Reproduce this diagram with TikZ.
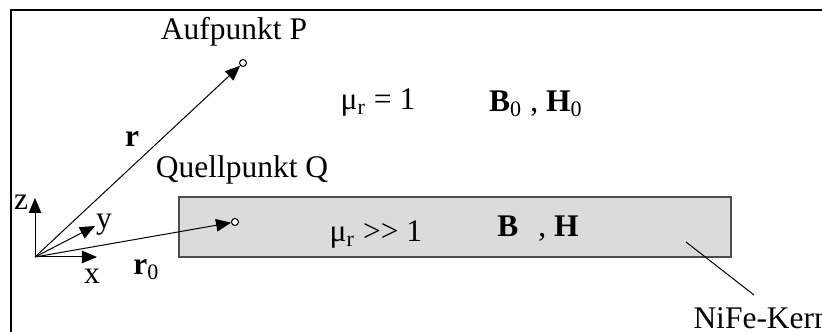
\documentclass[tikz,border=0pt]{standalone}
\usepackage{fontspec}
\setmainfont{Liberation Serif}
\usetikzlibrary{
    arrows.meta
}

\tikzset{
    vec/.style={-{Triangle[length=6pt,width=5pt]}, line width=0.4pt},
    pnt/.style={circle, draw, fill=white, inner sep=0pt, minimum size=2.8pt, line width=0.4pt},
    lbl/.style={anchor=base, inner sep=0pt, font=\fontsize{12.6}{14}\selectfont},
}

\begin{document}
\begin{tikzpicture}[x=0.4pt,y=-0.4pt]

\useasboundingbox (0,0) rectangle (822,332);

% Rahmen
\draw[line width=0.9pt] (11,10) rectangle (900,420);

% NiFe-Kern
\filldraw[fill=black!14, draw=black!70, line width=0.6pt] (179,197) rectangle (731,257);

% Ursprung und Punkte
\coordinate (O) at (35,257);
\node[pnt] (P) at (243,63) {};
\node[pnt] (Q) at (235,222) {};

% Koordinatenachsen
\coordinate (xtip) at (97,257);
\coordinate (ytip) at (95,226);
\coordinate (ztip) at (35,198);
\draw[vec] (O) -- (xtip);
\draw[vec] (O) -- (ytip);
\draw[vec] (O) -- (ztip);
\node[lbl] (xl) at (92,284) {x};
\node[lbl] (yl) at (104,229) {y};
\node[lbl] (zl) at (21,210) {z};

% Ortsvektoren
\draw[vec] (O) -- (P);
\draw[vec] (O) -- (Q);
\node[lbl] (rl) at (132,147) {\textbf{r}};
\node[lbl, anchor=base west] (r0l) at (133,275) {\textbf{r}\textsubscript{0}};

% Beschriftungen
\node[lbl] (Pl) at (234,40) {Aufpunkt P};
\node[lbl] (Ql) at (242,178) {Quellpunkt Q};
\node[lbl] (mu0) at (378,110) {μ\textsubscript{r} = 1};
\node[lbl] (BH0) at (536,112) {\textbf{B}\textsubscript{0} , \textbf{H}\textsubscript{0}};
\node[lbl] (mu) at (376,242) {μ\textsubscript{r} >{}> 1};
\node[lbl] (BH) at (538,237) {\textbf{B}\textsubscript{\phantom{0}} , \textbf{H}};
\node[lbl, anchor=base west] (kern) at (693,329) {NiFe-Kern};

% Hinweislinie
\coordinate (kernpt) at (686,242);
\coordinate (kernend) at (754,295);
\draw[line width=0.4pt] (kernpt) -- (kernend);

\end{tikzpicture}
\end{document}
